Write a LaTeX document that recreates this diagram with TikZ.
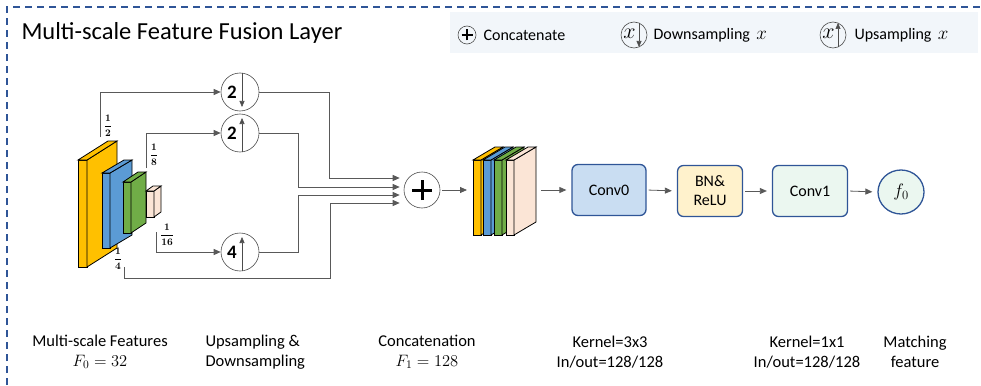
\documentclass[tikz,border=0pt]{standalone}
\usepackage{fix-cm}
\usepackage{fontspec}
\setmainfont{Carlito}
\usetikzlibrary{arrows.meta,calc,shapes.geometric}

\definecolor{frameblue}{HTML}{2F5597}
\definecolor{legendbg}{HTML}{F2F6FA}
\definecolor{fyellow}{HTML}{FFC000}
\definecolor{fblue}{HTML}{5B9BD5}
\definecolor{fgreen}{HTML}{70AD47}
\definecolor{fpeach}{HTML}{FBE5D6}
\definecolor{convblue}{HTML}{C9DDF2}
\definecolor{bnyellow}{HTML}{FFF2CC}
\definecolor{paleGreen}{HTML}{EBF7F0}

\tikzset{
  conn/.style={draw=black!65, line width=0.8pt, -{Triangle[length=7pt,width=6pt]}},
  gap/.style={shorten <=2pt, shorten >=5pt},
  samp/.style={circle, draw=black!70, line width=0.6pt, minimum size=38pt, inner sep=0pt},
  mini/.style={circle, draw=black!70, line width=0.6pt, minimum size=#1, inner sep=0pt},
  tip/.style={draw=black!70, line width=0.6pt, -{Triangle[length=6pt,width=5pt]}},
  block/.style={rounded corners=6pt, draw=frameblue, line width=1.3pt, minimum height=51pt,
    align=center, font=\fontsize{16}{19}\selectfont},
  note/.style={align=center, font=\fontsize{16.5}{20}\selectfont},
  frac/.style={font=\fontsize{10}{12}\selectfont\boldmath, inner sep=0pt},
  legend/.style={font=\fontsize{16}{19}\selectfont},
}

\begin{document}
\begin{tikzpicture}[x=1pt, y=-1pt]
\useasboundingbox (0,0) rectangle (981,385);

% frame and title
\draw[frameblue, line width=1.2pt, dash pattern=on 7pt off 5pt] (7,385) -- (7,7) -- (981,7);
\node[anchor=west, font=\fontsize{24.5}{29}\selectfont] (title) at (18,33) {Multi-scale Feature Fusion Layer};

% legend
\fill[legendbg] (450,12) rectangle (978,53);
\node[mini=18pt] (lcat) at (467,35) {};
\draw[line width=1.5pt] ([xshift=-5.5]lcat.center) -- ([xshift=5.5]lcat.center)
  ([yshift=-5.5]lcat.center) -- ([yshift=5.5]lcat.center);
\node[anchor=west, legend] (lcattext) at (480,35) {Concatenate};
\node[mini=26pt] (ldown) at (634,35) {};
\node[font=\fontsize{22}{24}\selectfont, inner sep=0pt] at ($(ldown)+(-4.5,-1.5)$) {$x$};
\draw[tip] ($(ldown)+(5,-12)$) -- ($(ldown)+(5,12)$);
\node[anchor=west, legend] (ldowntext) at (650,35) {Downsampling \,{\fontsize{19}{20}\selectfont$x$}};
\node[mini=26pt] (lup) at (833,35) {};
\node[font=\fontsize{22}{24}\selectfont, inner sep=0pt] at ($(lup)+(-4.5,-1.5)$) {$x$};
\draw[tip] ($(lup)+(5,12)$) -- ($(lup)+(5,-12)$);
\node[anchor=west, legend] (luptext) at (851,35) {Upsampling \,{\fontsize{19}{20}\selectfont$x$}};

% multi-scale features
\foreach \x/\y/\w/\h/\dx/\dy/\c in {78/160/9/107/30/19/fyellow, 102/173/8/75/22/13/fblue,
    123/182/8/51/15/10/fgreen, 146/191/8/26/7/5/fpeach}{
  \draw[fill=\c, line width=0.8pt] (\x,\y) rectangle ++(\w,\h);
  \draw[fill=\c, line width=0.8pt] (\x+\w,\y) -- ++(\dx,-\dy) -- ++(0,\h) -- ++(-\dx,\dy) -- cycle;
  \draw[fill=\c, line width=0.8pt] (\x,\y) -- ++(\dx,-\dy) -- ++(\w,0) -- ++(-\dx,\dy) -- cycle;
}
\node[frac] (f2) at (108,126) {$\displaystyle\frac{1}{2}$};
\node[frac] (f8) at (154,155) {$\displaystyle\frac{1}{8}$};
\node[frac] (f16) at (167,235) {$\displaystyle\frac{1}{16}$};
\node[frac] (f4) at (118,259) {$\displaystyle\frac{1}{4}$};
\coordinate (s1) at (100,137);
\coordinate (s2) at (146,168);
\coordinate (s3) at (156,232);
\coordinate (s4) at (124,267);

% up / down sampling
\foreach \n/\yy/\k/\dir in {d2/92/2/-1, u2/133/2/1, u4/252/4/1}{
  \node[samp] (\n) at (240,\yy) {};
  \node[font=\fontsize{19}{20}\selectfont\bfseries, inner sep=0pt] at ($(\n)+(-8,0)$) {\k};
  \draw[tip] ($(\n)+(2,19*\dir)$) -- ($(\n)+(2,-15*\dir)$);
}

% concatenation
\node[samp, minimum size=36pt] (cat) at (422,190) {};
\draw[line width=3pt] ([xshift=-10]cat.center) -- ([xshift=10]cat.center)
  ([yshift=-10]cat.center) -- ([yshift=10]cat.center);
\coordinate (in1) at ([shift={(-4,-12)}]cat.west);
\coordinate (in2) at ([shift={(-4,-3)}]cat.west);
\coordinate (in3) at ([shift={(-4,5)}]cat.west);
\coordinate (in4) at ([shift={(-4,13)}]cat.west);

\draw[conn] (s1) |- (d2.west);
\draw[conn] (s2) |- (u2.west);
\draw[conn] (s3) |- (u4.west);
\draw[conn] (d2.east) -| ([xshift=-70]in1) -- (in1);
\draw[conn] (u2.east) -| ([xshift=-101]in2) -- (in2);
\draw[conn] (u4.east) -| ([xshift=-101]in3) -- (in3);
\draw[conn] (s4) -- ++(0,11) -| ([xshift=-69]in4) -- (in4);

% concatenated features
\foreach \x/\c in {473/fyellow, 483/fblue, 494/fgreen, 506/fpeach}{
  \draw[fill=\c, line width=0.8pt] (\x,160) rectangle ++(8,75);
  \draw[fill=\c, line width=0.8pt] (\x+8,160) -- ++(22,-13) -- ++(0,75) -- ++(-22,13) -- cycle;
  \draw[fill=\c, line width=0.8pt] (\x,160) -- ++(22,-13) -- ++(8,0) -- ++(-22,13) -- cycle;
}
\coordinate (stkin) at (467,190);
\coordinate (stkout) at (541,190);
\draw[conn, shorten <=2pt] (cat.east) -- (stkin);

% conv layers
\node[block, fill=convblue, minimum width=74pt] (conv0) at (609,190) {Conv0};
\node[block, fill=bnyellow, minimum width=65pt] (bn) at (710,191) {BN\&\\ReLU};
\node[block, fill=paleGreen, minimum width=75pt] (conv1) at (810,191) {Conv1};
\node[ellipse, draw=frameblue, line width=1.3pt, fill=paleGreen, minimum width=46pt,
  minimum height=44pt, font=\fontsize{18}{20}\selectfont] (f0) at (901,192) {$f_0$};
\draw[conn, shorten >=5pt] (stkout) -- (conv0.west);
\draw[conn, gap] (conv0.east) -- (bn.west);
\draw[conn, gap] (bn.east) -- (conv1.west);
\draw[conn, gap] (conv1.east) -- (f0.west);

% captions
\node[note] (c1) at (100,352) {Multi-scale Features\\$F_0 = 32$};
\node[note, align=left, anchor=west] (c2) at (202,352) {Upsampling \&\\Downsampling};
\node[note] (c3) at (427,352) {Concatenation\\$F_1 = 128$};
\node[note] (c4) at (610,352) {Kernel=3x3\\In/out=128/128};
\node[note] (c5) at (807,352) {Kernel=1x1\\In/out=128/128};
\node[note] (c6) at (915,352) {Matching\\feature};
\end{tikzpicture}
\end{document}
